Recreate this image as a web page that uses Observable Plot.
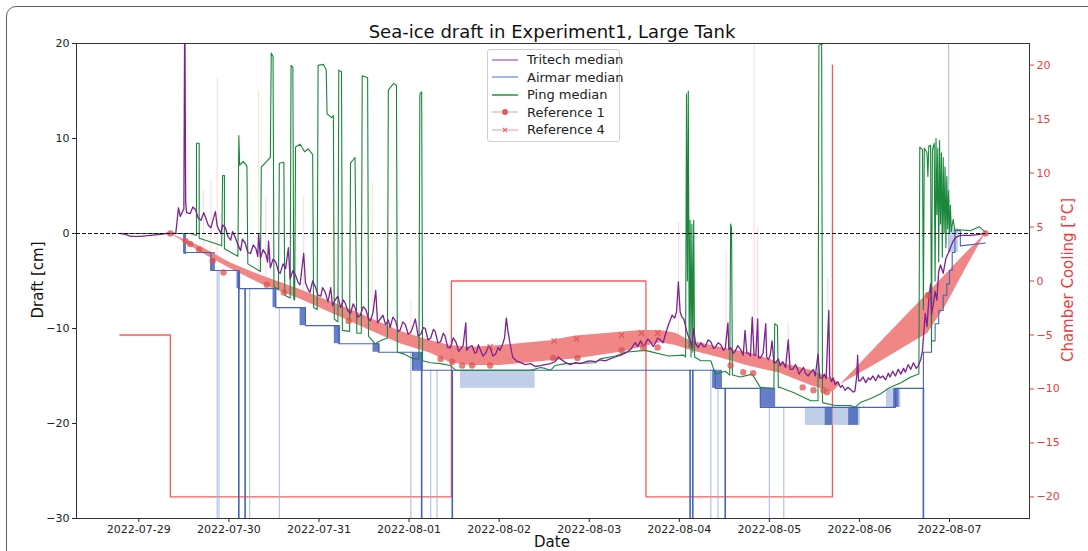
<!DOCTYPE html>
<html><head><meta charset="utf-8">
<script src="https://cdn.jsdelivr.net/npm/d3@7"></script>
<script src="https://cdn.jsdelivr.net/npm/@observablehq/plot@0.6"></script>
<style>
body{margin:0;background:#fff;font-family:"DejaVu Sans",sans-serif;}
#wrap{position:relative;width:1088px;height:551px;overflow:hidden;background:#fff;}
#frameborder{position:absolute;left:6px;top:6px;width:1200px;height:700px;border:1.5px solid #606060;border-radius:10px;}
#chart{position:absolute;left:0;top:0;}
.lbl{position:absolute;white-space:nowrap;line-height:1;transform:translate(-50%,-50%);font-family:"DejaVu Sans",sans-serif;}
#legend{position:absolute;left:487px;top:49px;width:131px;height:91px;border:1px solid #d0d0d0;border-radius:3px;background:rgba(255,255,255,0.85);font-family:"DejaVu Sans",sans-serif;font-size:13px;color:#222;}
.row{position:absolute;left:4px;height:17px;display:flex;align-items:center;white-space:nowrap;}
.row svg{width:26px;height:14px;margin-right:9px;flex:none;}
.row span{white-space:nowrap;line-height:1;}
</style></head><body>
<div id="wrap">
<div id="frameborder"></div>
<div id="chart"></div>
<div class="lbl" style="left:552px;top:32px;font-size:18px;color:#111">Sea-ice draft in Experiment1, Large Tank</div>
<div class="lbl" style="left:38px;top:280px;font-size:15px;color:#111;transform:translate(-50%,-50%) rotate(-90deg)">Draft [cm]</div>
<div class="lbl" style="left:552px;top:542px;font-size:15px;color:#111">Date</div>
<div class="lbl" style="left:1068px;top:280px;font-size:15px;color:#ee3b3b;transform:translate(-50%,-50%) rotate(-90deg)">Chamber Cooling [°C]</div>
<div id="legend"></div>
</div>
<script>
// ---- data (time in days since 2022-07-29 00:00 UTC) ----
const dayTicks = ["2022-07-29","2022-07-30","2022-07-31","2022-08-01","2022-08-02","2022-08-03","2022-08-04","2022-08-05","2022-08-06","2022-08-07"];
const draftTicks = [-30,-20,-10,0,10,20];
const coolingTicks = [-20,-15,-10,-5,0,5,10,15,20];
const xDomain = [-0.692, 9.888];
const draftDomain = [-30, 20];
const coolingDomain = [-22, 22];

// Chamber cooling [°C] (step)
const chamberCooling = [[-0.21,-5],[0.35,-20],[3.47,0],[5.63,-20],[7.70,20]];

// Tritech median draft [cm]
const tritech = [
[-0.20,0.0],[-0.15,-0.1],[-0.09,-0.3],[0.02,-0.3],[0.13,-0.2],[0.24,-0.1],[0.30,0.0],[0.41,0.0],
[0.44,2.7],[0.46,1.8],[0.50,2.6],[0.51,25],[0.52,3.3],[0.53,2.2],[0.57,2.1],[0.60,2.8],[0.63,2.5],[0.66,1.6],[0.69,1.4],[0.72,2.2],[0.74,1.7],[0.77,0.9],[0.80,0.6],[0.82,1.3],[0.85,2.3],[0.87,0.8],[0.91,0.0],[0.93,0.9],[0.96,0.6],[0.99,-0.3],[1.02,-0.7],[1.04,0.2],[1.07,-0.4],[1.10,-1.2],[1.13,-1.8],[1.15,-0.6],[1.18,-1.0],[1.21,-2.0],[1.24,-2.1],[1.27,-1.2],[1.30,-1.6],[1.32,-2.4],[1.33,0.0],[1.35,-2.6],[1.38,-1.7],[1.41,-2.2],[1.43,-3.0],[1.44,-0.8],[1.46,-3.6],[1.49,-2.7],[1.52,-3.0],[1.55,-4.0],[1.57,-4.2],[1.60,-3.2],[1.63,-3.7],[1.66,-1.5],[1.68,-4.8],[1.71,-3.9],[1.74,-4.4],[1.77,-5.2],[1.79,-5.4],[1.83,-2.1],[1.85,-5.2],[1.88,-5.9],[1.90,-6.2],[1.93,-5.0],[1.96,-5.6],[1.99,-6.5],[2.02,-6.6],[2.04,-5.7],[2.07,-6.2],[2.10,-7.2],[2.13,-5.7],[2.15,-7.6],[2.18,-7.0],[2.21,-6.6],[2.24,-7.8],[2.27,-7.0],[2.29,-7.3],[2.32,-8.1],[2.35,-8.4],[2.38,-7.4],[2.40,-7.8],[2.43,-8.8],[2.46,-8.6],[2.49,-7.7],[2.52,-8.0],[2.55,-9.0],[2.57,-9.2],[2.60,-8.3],[2.63,-6.0],[2.65,-9.4],[2.68,-9.0],[2.71,-8.6],[2.74,-9.6],[2.77,-9.1],[2.79,-9.9],[2.82,-8.8],[2.85,-9.2],[2.88,-10.3],[2.90,-10.2],[2.93,-9.3],[2.96,-9.6],[2.99,-10.6],[3.02,-10.4],[3.05,-9.6],[3.07,-9.0],[3.10,-10.8],[3.13,-10.6],[3.16,-9.9],[3.18,-10.0],[3.21,-11.2],[3.24,-11.0],[3.27,-10.1],[3.29,-10.3],[3.32,-11.5],[3.35,-11.4],[3.38,-10.5],[3.40,-10.8],[3.43,-12.0],[3.46,-12.0],[3.49,-11.0],[3.52,-11.4],[3.55,-12.4],[3.57,-12.2],[3.60,-11.8],[3.63,-9.4],[3.64,-12.3],[3.66,-12.0],[3.70,-11.8],[3.73,-12.6],[3.75,-12.5],[3.77,-11.7],[3.79,-12.2],[3.82,-12.9],[3.85,-12.6],[3.88,-11.9],[3.90,-12.0],[3.93,-12.9],[3.96,-12.7],[3.99,-12.0],[4.01,-12.3],[4.04,-11.6],[4.06,-11.0],[4.08,-8.9],[4.10,-10.4],[4.12,-11.5],[4.15,-13.0],[4.19,-13.4],[4.24,-13.6],[4.29,-13.8],[4.35,-13.7],[4.40,-14.0],[4.46,-13.9],[4.51,-13.8],[4.57,-13.7],[4.62,-13.5],[4.66,-13.0],[4.68,-13.2],[4.74,-13.6],[4.79,-13.8],[4.85,-13.6],[4.90,-13.7],[4.96,-13.5],[5.01,-13.4],[5.07,-13.5],[5.12,-13.3],[5.18,-13.4],[5.23,-13.2],[5.29,-13.0],[5.35,-12.8],[5.40,-12.6],[5.46,-12.2],[5.51,-11.5],[5.54,-11.9],[5.57,-11.3],[5.60,-11.9],[5.62,-11.7],[5.65,-11.1],[5.68,-11.4],[5.71,-11.9],[5.73,-11.6],[5.76,-11.0],[5.79,-11.2],[5.82,-11.5],[5.85,-10.5],[5.88,-9.6],[5.92,-8.6],[5.95,-8.9],[5.97,-8.2],[5.99,-5.1],[6.01,-8.3],[6.03,-8.8],[6.05,-9.0],[6.08,-10.2],[6.10,-10.8],[6.12,-11.2],[6.14,-12.0],[6.16,-10.0],[6.18,-11.6],[6.21,-12.0],[6.24,-11.5],[6.27,-11.9],[6.29,-11.9],[6.32,-11.2],[6.35,-11.4],[6.38,-12.1],[6.40,-12.0],[6.43,-11.5],[6.46,-11.7],[6.49,-12.3],[6.51,-12.1],[6.54,-9.4],[6.55,-12.2],[6.57,-12.0],[6.60,-12.6],[6.62,-12.4],[6.65,-11.8],[6.68,-12.2],[6.71,-12.8],[6.73,-10.2],[6.75,-12.6],[6.77,-12.6],[6.79,-12.9],[6.81,-8.8],[6.83,-12.8],[6.85,-12.8],[6.87,-9.0],[6.88,-13.1],[6.90,-13.1],[6.93,-12.6],[6.96,-9.5],[6.97,-13.0],[6.99,-13.3],[7.01,-12.8],[7.03,-11.3],[7.05,-13.6],[7.07,-13.6],[7.10,-13.2],[7.12,-13.9],[7.15,-13.5],[7.18,-14.1],[7.21,-11.2],[7.23,-14.3],[7.26,-14.3],[7.29,-13.8],[7.31,-14.2],[7.33,-14.8],[7.35,-14.5],[7.38,-14.1],[7.40,-14.7],[7.43,-15.0],[7.46,-14.6],[7.49,-14.3],[7.51,-15.0],[7.54,-12.7],[7.56,-15.2],[7.59,-15.2],[7.61,-14.8],[7.63,-15.3],[7.66,-8.1],[7.67,-15.0],[7.69,-15.6],[7.71,-15.2],[7.73,-15.9],[7.76,-15.6],[7.79,-16.2],[7.81,-16.0],[7.84,-16.5],[7.87,-16.2],[7.90,-16.4],[7.93,-16.7],[7.95,-16.6],[7.97,-15.0],[7.98,-12.8],[7.99,-15.5],[8.01,-15.5],[8.04,-15.1],[8.07,-15.7],[8.10,-15.2],[8.12,-15.4],[8.15,-15.0],[8.18,-15.5],[8.21,-14.9],[8.23,-15.2],[8.26,-15.0],[8.29,-15.4],[8.32,-14.7],[8.34,-15.1],[8.37,-14.5],[8.40,-15.0],[8.43,-14.3],[8.46,-14.8],[8.49,-14.2],[8.51,-14.6],[8.54,-13.8],[8.57,-14.3],[8.60,-13.6],[8.63,-14.2],[8.65,-14.0],[8.68,-13.3],[8.70,-12.3],[8.73,-8.4],[8.75,-9.8],[8.77,-7.0],[8.79,-5.3],[8.80,-8.5],[8.82,-7.5],[8.84,-6.1],[8.86,-7.0],[8.88,-4.0],[8.90,-3.3],[8.93,-4.2],[8.96,-2.6],[8.99,-2.0],[9.01,-1.5],[9.04,-0.8],[9.07,-0.4],[9.12,-0.2],[9.23,-0.2],[9.33,-0.1],[9.40,0.0]
];

// Airmar median draft [cm]
const airmar = [
[-0.20,0.0],[0.50,0.0],[0.50,-2.0],[0.80,-2.0],[0.80,-3.9],[1.11,-3.9],[1.11,-5.8],[1.52,-5.8],[1.52,-7.8],[1.85,-7.8],[1.85,-9.7],[2.22,-9.7],[2.22,-11.6],[2.66,-11.6],[2.66,-12.5],[3.04,-12.5],[3.04,-14.4],[6.40,-14.4],[6.40,-16.3],[6.90,-16.3],[6.90,-18.3],[8.40,-18.3],[8.40,-16.3],[8.71,-16.3],[8.71,-12.5],[8.80,-12.5],[8.80,-11.3],[8.84,-11.3],[8.84,-9.5],[8.88,-9.5],[8.88,-8.1],[8.93,-8.1],[8.93,-6.5],[8.97,-6.5],[8.97,-5.3],[9.00,-5.3],[9.00,-3.9],[9.03,-3.9],[9.03,-2.0],[9.06,-2.0],[9.06,0.3],[9.12,0.3],[9.12,-1.3],[9.40,-1.0]
];
// Airmar flicker bands [day0, day1, low, high]
const airmarFlickerDark = [[0.50,0.53,-2.2,0.0],[0.80,0.85,-3.9,-2.0],[1.09,1.13,-5.8,-3.9],[1.49,1.53,-7.8,-5.8],[1.79,1.86,-9.7,-7.8],[2.17,2.24,-11.6,-9.7],[2.60,2.68,-12.5,-11.6],[3.04,3.16,-14.4,-12.5],[6.37,6.48,-16.3,-14.4],[6.90,7.07,-18.3,-16.3],[7.62,7.70,-20.2,-18.3],[7.88,7.99,-20.2,-18.3],[8.38,8.44,-18.3,-16.3]];
const airmarFlickerLight = [[3.57,4.40,-16.3,-14.4],[7.40,8.01,-20.2,-18.3],[8.30,8.46,-18.3,-16.3],[9.00,9.10,-2.0,0.5]];
// Airmar dropouts [day, from level]
const airmarDropDark = [[1.11,-3.9],[1.18,-5.8],[3.14,-12.5],[3.48,-14.4],[6.12,-14.4],[6.15,-14.4],[6.51,-16.3],[8.71,-16.3]];
const airmarDropLight = [[0.87,-3.9],[0.89,-3.9],[1.23,-5.8],[1.56,-7.8],[3.02,-12.5],[3.24,-14.4],[3.31,-14.4],[6.35,-14.4],[6.43,-16.3],[7.00,-18.3],[7.16,-18.3]];
const airmarSpikeUp = [[8.99,-2.0]];

// Ping median draft [cm]
const ping = [
[-0.20,0.0],[0.58,0.0],[0.64,-0.2],[0.64,9.5],[0.67,9.5],[0.67,-0.5],[0.80,-0.9],[0.92,-1.3],[0.93,6.1],[0.95,6.1],[0.95,-1.6],
[1.10,-2.4],[1.11,10.3],[1.12,7.2],[1.16,7.6],[1.20,7.1],[1.21,-3.2],[1.35,-4.0],[1.36,7.0],[1.42,7.6],[1.46,8.0],[1.47,19.0],[1.49,18.6],[1.50,-5.6],
[1.55,-5.9],[1.56,7.4],[1.61,7.5],[1.62,-6.5],[1.68,-6.8],[1.69,17.7],[1.71,17.5],[1.72,-6.9],[1.73,-7.0],[1.74,9.1],[1.79,9.4],[1.84,8.6],[1.88,8.9],[1.93,8.3],[1.94,-7.8],
[1.98,-8.0],[1.99,17.7],[2.05,17.8],[2.08,17.2],[2.09,12.6],[2.14,12.2],[2.16,12.4],[2.17,-9.0],[2.21,-9.3],[2.22,17.2],[2.25,17.0],[2.26,-10.2],
[2.34,-10.3],[2.35,7.4],[2.40,8.0],[2.42,-10.5],[2.47,-10.5],[2.48,16.6],[2.54,16.4],[2.55,-10.8],[2.62,-11.6],[2.70,-11.2],[2.76,-11.0],[2.77,15.1],[2.83,15.8],[2.86,15.6],[2.87,-12.5],
[2.95,-12.7],[3.05,-13.2],[3.11,-13.2],[3.12,14.7],[3.14,14.9],[3.15,-13.4],[3.24,-13.6],[3.35,-13.7],[3.46,-13.9],[3.52,-14.4],[4.35,-14.4],[4.46,-14.1],[4.51,-14.2],[4.57,-14.4],[4.62,-13.9],[4.74,-13.7],[5.07,-13.6],[5.12,-13.2],[5.29,-12.9],[5.40,-12.5],[5.62,-12.3],[5.88,-12.9],[6.05,-12.8],
[6.07,-13.0],[6.08,14.7],[6.09,-5.0],[6.10,15.0],[6.11,-12.0],[6.12,1.4],[6.13,-13.0],[6.14,1.0],[6.15,-12.5],[6.16,1.4],[6.17,-13.0],
[6.24,-13.4],[6.35,-13.4],[6.40,-14.8],[6.51,-14.5],[6.56,-14.9],[6.57,1.0],[6.58,0.6],[6.59,-14.9],[6.68,-15.1],[6.81,-14.8],[6.90,-16.2],[7.05,-16.3],[7.06,-9.5],[7.09,-9.7],[7.10,-16.2],[7.12,-16.2],[7.26,-16.7],[7.46,-17.6],[7.54,-17.6],[7.55,19.8],[7.58,20.0],[7.59,-17.8],[7.73,-18.1],[7.90,-18.1],[7.95,-18.3],[8.01,-17.8],[8.12,-17.4],[8.23,-16.9],[8.34,-16.2],[8.46,-15.7],[8.57,-15.1],[8.66,-14.8],
[8.67,9.1],[8.70,8.8],[8.71,-8.0],[8.72,9.0],[8.75,8.5],[8.76,6.0],[8.77,9.2],[8.79,9.3],[8.80,-12.0],[8.81,8.8],[8.83,9.5],[8.84,-5.0],[8.85,10.0],[8.86,2.0],[8.87,9.0],[8.88,-3.0],[8.89,9.8],[8.90,1.0],[8.91,8.5],[8.92,-2.5],[8.93,8.0],[8.94,0.0],[8.95,7.0],[8.96,-1.5],[8.97,6.0],[8.98,0.5],[8.99,4.5],[9.00,0.0],[9.01,3.0],[9.02,0.2],[9.04,1.5],[9.06,0.3],[9.10,0.4],[9.23,0.3],[9.33,0.7],[9.38,0.3],[9.40,0.2]
];

// Reference band [day, Reference 1, Reference 4]
const refBand = [[0.35,0,0],[0.69,-2.0,-1.4],[1.02,-3.7,-3.1],[1.35,-5.3,-4.4],[1.79,-6.9,-5.9],[2.35,-9.3,-8.0],[2.90,-11.6,-10.3],[3.24,-12.6,-11.3],[3.46,-13.6,-11.8],[3.68,-13.9,-12.0],[4.01,-13.9,-11.8],[4.57,-13.4,-11.3],[4.85,-13.2,-10.8],[5.35,-12.5,-10.4],[5.57,-12.0,-10.2],[5.79,-11.5,-10.2],[5.96,-11.8,-10.5],[6.12,-12.3,-11.3],[6.46,-13.1,-12.0],[6.79,-14.0,-12.6],[7.12,-14.7,-13.6],[7.46,-16.0,-14.4],[7.70,-16.7,-15.3],[7.79,-15.9,-15.9],[8.23,-13.5,-11.5],[8.76,-10.5,-6.3],[8.96,-7.6,-4.3],[9.18,-3.7,-2.1],[9.40,0,0]];
// Reference 1 samples (dots) and Reference 4 samples (crosses)
const ref1 = [[0.35,0],[0.52,-0.8],[0.57,-1.1],[0.67,-1.7],[0.82,-2.9],[0.94,-4.1],[1.42,-5.4],[1.61,-6.2],[2.33,-9.2],[3.35,-13.2],[3.48,-13.5],[3.59,-13.9],[3.70,-13.9],[3.90,-13.9],[4.60,-13.1],[4.87,-13.1],[5.36,-12.3],[5.60,-12.0],[5.76,-12.0],[6.57,-13.9],[6.71,-14.6],[6.82,-14.7],[7.37,-16.2],[7.49,-16.5],[7.60,-16.5],[7.64,-16.7],[8.76,-6.5],[9.40,0]];
const ref4 = [[3.90,-11.9],[4.61,-11.3],[4.86,-11.1],[5.36,-10.7],[5.58,-10.5],[5.76,-10.5]];
// Faint reference outliers [day, from, to]
const refSpikes = [[0.72,-1.5,4.5],[0.80,-2.0,5.5],[0.87,-2.5,16.3],[1.33,-4.5,15.0],[1.41,-5.0,3.8],[1.83,-7.0,3.8],[2.16,-8.5,3.5],[2.59,-10.0,5.3],[3.02,-12.0,-7.0],[5.99,-11.0,1.2],[6.52,-12.5,-2.0],[6.83,-13.0,22],[6.87,-13.0,0.6],[7.21,-14.5,-9.5],[7.65,-15.5,-4.7]];

// ---- helpers ----
const base = Date.UTC(2022,6,29);
const T = d => new Date(base + d*86400000);
const k = (draftDomain[1]-draftDomain[0])/(coolingDomain[1]-coolingDomain[0]);
const toDraft = v => draftDomain[0] + (v - coolingDomain[0])*k;
const fromDraft = y => (y - draftDomain[0])/k + coolingDomain[0];
const fmt = v => v < 0 ? "\u2212" + Math.abs(v) : String(v);
const RED = "#ee3b3b";

const chart = Plot.plot({
  width: 1088, height: 551,
  marginTop: 43, marginBottom: 33, marginLeft: 76, marginRight: 59,
  style: {fontFamily: "DejaVu Sans, sans-serif", fontSize: "11px", color: "#222", background: "transparent", overflow: "visible"},
  x: {type: "utc", domain: xDomain.map(T)},
  y: {domain: draftDomain},
  marks: [
    Plot.line(chamberCooling, {x: d => T(d[0]), y: d => toDraft(d[1]), curve: "step-after", stroke: "#f85a5a", strokeWidth: 1.3, clip: true}),
    Plot.ruleX(refSpikes, {x: d => T(d[0]), y1: d => d[1], y2: d => d[2], stroke: "#f08080", strokeOpacity: 0.3, strokeWidth: 1, clip: true}),
    Plot.ruleX(airmarDropLight, {x: d => T(d[0]), y1: d => d[1], y2: -32, stroke: "#9fb3de", strokeOpacity: 0.8, strokeWidth: 1.2, clip: true}),
    Plot.ruleX(airmarSpikeUp, {x: d => T(d[0]), y1: d => d[1], y2: 24, stroke: "#9fb3de", strokeOpacity: 0.8, strokeWidth: 1.2, clip: true}),
    Plot.rect(airmarFlickerLight, {x1: d => T(d[0]), x2: d => T(d[1]), y1: d => d[2], y2: d => d[3], fill: "#9fb3de", fillOpacity: 0.65, clip: true}),
    Plot.rect(airmarFlickerDark, {x1: d => T(d[0]), x2: d => T(d[1]), y1: d => d[2], y2: d => d[3], fill: "#4a67bd", fillOpacity: 0.85, clip: true}),
    Plot.areaY(refBand, {x: d => T(d[0]), y1: d => d[1], y2: d => d[2], fill: "#f08080", fillOpacity: 0.95, clip: true}),
    Plot.line(airmar, {x: d => T(d[0]), y: d => d[1], stroke: "#4563b8", strokeWidth: 1.1, clip: true}),
    Plot.ruleX(airmarDropDark, {x: d => T(d[0]), y1: d => d[1], y2: -32, stroke: "#4563b8", strokeWidth: 1.6, clip: true}),
    Plot.line(ping, {x: d => T(d[0]), y: d => d[1], stroke: "#1a873c", strokeWidth: 1.1, clip: true}),
    Plot.line(tritech, {x: d => T(d[0]), y: d => d[1], stroke: "#7b2390", strokeWidth: 1.3, clip: true}),
    Plot.dot(ref1, {x: d => T(d[0]), y: d => d[1], r: 3.2, fill: "#d9534f", fillOpacity: 0.75, clip: true}),
    Plot.dot(ref4, {x: d => T(d[0]), y: d => d[1], r: 2.5, symbol: "times", stroke: "#d9534f", strokeOpacity: 0.75, clip: true}),
    Plot.ruleY([0], {stroke: "#111", strokeWidth: 1, strokeDasharray: "4,2"}),
    Plot.frame({stroke: "#333", strokeWidth: 1}),
    Plot.axisX(dayTicks.map(s => new Date(s + "T00:00:00Z")), {anchor: "bottom", tickFormat: d3.utcFormat("%Y-%m-%d"), tickSize: 4, tickPadding: 3, label: null}),
    Plot.axisY(draftTicks, {anchor: "left", tickFormat: fmt, tickSize: 4, tickPadding: 3, label: null}),
    Plot.axisY(coolingTicks.map(toDraft), {anchor: "right", tickFormat: y => fmt(Math.round(fromDraft(y))), tickSize: 4, tickPadding: 3, color: RED, label: null})
  ]
});
document.getElementById("chart").appendChild(chart);

// ---- legend ----
const legendItems = [
  {name: "Tritech median", color: "#b77fc7", marker: null},
  {name: "Airmar median", color: "#8ea5de", marker: null},
  {name: "Ping median", color: "#2e9a4e", marker: null},
  {name: "Reference 1", color: "#f7c0c0", marker: "dot"},
  {name: "Reference 4", color: "#f7c0c0", marker: "x"}
];
const lg = document.getElementById("legend");
legendItems.forEach((it, i) => {
  const row = document.createElement("div");
  row.className = "row";
  row.style.top = (1 + i * 17.6) + "px";
  let m = "";
  if (it.marker === "dot") m = '<circle cx="13" cy="7" r="3" fill="#d9605c"/>';
  if (it.marker === "x") m = '<path d="M11 5L15 9M15 5L11 9" stroke="#e07070" stroke-width="1.2"/>';
  row.innerHTML = '<svg viewBox="0 0 26 14"><line x1="0" y1="7" x2="26" y2="7" stroke="' + it.color + '" stroke-width="1.6"/>' + m + '</svg><span>' + it.name + '</span>';
  lg.appendChild(row);
});
</script>
</body></html>
